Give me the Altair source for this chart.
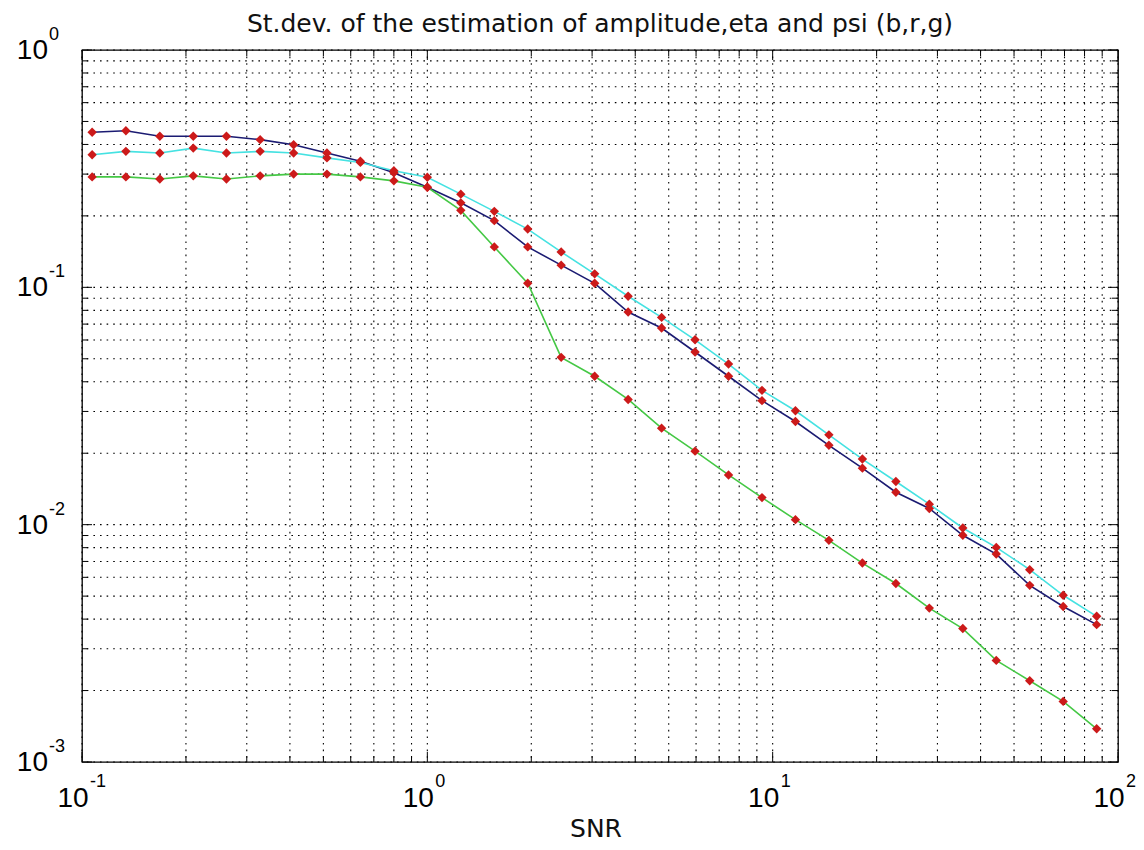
import altair as alt
import pandas as pd

# ---- data ----
snr = [0.107, 0.134, 0.168, 0.210, 0.262, 0.328, 0.410, 0.512, 0.640, 0.800,
       1.000, 1.250, 1.563, 1.953, 2.441, 3.052, 3.815, 4.768, 5.960, 7.451,
       9.313, 11.64, 14.55, 18.19, 22.74, 28.42, 35.53, 44.41, 55.51, 69.39, 86.74]

std_amp = [0.450, 0.457, 0.433, 0.433, 0.433, 0.419, 0.399, 0.368, 0.340, 0.304,
           0.264, 0.227, 0.191, 0.148, 0.124, 0.104, 0.0787, 0.0674, 0.0534, 0.0422,
           0.0333, 0.0272, 0.0216, 0.0173, 0.0137, 0.0117, 0.00902, 0.00752, 0.00555, 0.00452, 0.00379]

std_eta = [0.362, 0.374, 0.368, 0.386, 0.368, 0.374, 0.368, 0.351, 0.336, 0.310,
           0.291, 0.247, 0.209, 0.176, 0.141, 0.114, 0.0917, 0.0747, 0.0601, 0.0475,
           0.0368, 0.0302, 0.0239, 0.0189, 0.0152, 0.0122, 0.00968, 0.00802, 0.00646, 0.00504, 0.00411]

std_psi = [0.292, 0.292, 0.286, 0.295, 0.286, 0.295, 0.300, 0.300, 0.292, 0.281,
           0.264, 0.211, 0.148, 0.104, 0.0507, 0.0422, 0.0337, 0.0255, 0.0204, 0.0162,
           0.0130, 0.0105, 0.00859, 0.00689, 0.00565, 0.00445, 0.00365, 0.00268, 0.00220, 0.00180, 0.00138]

series_names = ["eta", "amplitude", "psi"]
series_colors = ["#45e2e2", "#1b1b72", "#45c845"]

x_major = [0.1, 1, 10, 100]
x_exp = ["-1", "0", "1", "2"]
x_minor = [0.2, 0.3, 0.4, 0.5, 0.6, 0.7, 0.8, 0.9,
           2, 3, 4, 5, 6, 7, 8, 9,
           20, 30, 40, 50, 60, 70, 80, 90]
y_major = [0.001, 0.01, 0.1, 1]
y_exp = ["-3", "-2", "-1", "0"]
y_minor = [0.002, 0.003, 0.004, 0.005, 0.006, 0.007, 0.008, 0.009,
           0.02, 0.03, 0.04, 0.05, 0.06, 0.07, 0.08, 0.09,
           0.2, 0.3, 0.4, 0.5, 0.6, 0.7, 0.8, 0.9]

title_text = "St.dev. of the estimation of amplitude,eta and psi (b,r,g)"
xlabel_text = "SNR"

# ---- layout/style ----
W, H = 1036, 712
FONT = "Liberation Sans"
TFONT = "DejaVu Sans"
xs = alt.Scale(type="log", domain=[0.1, 100], nice=False)
ys = alt.Scale(type="log", domain=[0.001, 1], nice=False)

rows = []
for name, vals in zip(["amplitude", "eta", "psi"], [std_amp, std_eta, std_psi]):
    for s, v in zip(snr, vals):
        rows.append({"snr": s, "std": v, "series": name})
df = pd.DataFrame(rows)

X = lambda f: alt.X(f, scale=xs, axis=None)
Y = lambda f: alt.Y(f, scale=ys, axis=None)

dash = [1.6, 5]
grid_x = alt.Chart(pd.DataFrame({"v": x_major + x_minor})).mark_rule(
    color="black", strokeWidth=1.1, strokeDash=dash, opacity=1).encode(x=X("v:Q"))
grid_y = alt.Chart(pd.DataFrame({"v": y_major + y_minor})).mark_rule(
    color="black", strokeWidth=1.1, strokeDash=dash, opacity=1).encode(y=Y("v:Q"))

def xticks(vals, L):
    d = pd.DataFrame({"v": vals})
    base = alt.Chart(d).mark_rule(color="black", strokeWidth=1)
    return [base.encode(x=X("v:Q"), y=alt.value(H), y2=alt.value(H - L)),
            base.encode(x=X("v:Q"), y=alt.value(0), y2=alt.value(L))]

def yticks(vals, L):
    d = pd.DataFrame({"v": vals})
    base = alt.Chart(d).mark_rule(color="black", strokeWidth=1)
    return [base.encode(y=Y("v:Q"), x=alt.value(0), x2=alt.value(L)),
            base.encode(y=Y("v:Q"), x=alt.value(W), x2=alt.value(W - L))]

ticks = xticks(x_major, 10) + xticks(x_minor, 6) + yticks(y_major, 10) + yticks(y_minor, 6)

lines = alt.Chart(df).mark_line(strokeWidth=1.6).encode(
    x=X("snr:Q"), y=Y("std:Q"),
    color=alt.Color("series:N", scale=alt.Scale(domain=series_names, range=series_colors), legend=None),
)
pts = alt.Chart(df).mark_point(shape="diamond", filled=True, size=88, color="#cc1a1a", opacity=1).encode(
    x=X("snr:Q"), y=Y("std:Q"))

xl = pd.DataFrame({"v": x_major, "e": x_exp})
yl = pd.DataFrame({"v": y_major, "e": y_exp})
x10 = alt.Chart(xl).mark_text(text="10", font=FONT, fontSize=28, align="center", baseline="middle", dx=-9, color="black").encode(
    x=X("v:Q"), y=alt.value(H + 37))
xe = alt.Chart(xl).mark_text(font=FONT, fontSize=18, align="left", baseline="middle", dx=8, color="black").encode(
    x=X("v:Q"), y=alt.value(H + 20), text="e:N")
y10 = alt.Chart(yl).mark_text(text="10", font=FONT, fontSize=28, align="right", baseline="middle", dy=1, color="black").encode(
    y=Y("v:Q"), x=alt.value(-34))
ye = alt.Chart(yl).mark_text(font=FONT, fontSize=18, align="left", baseline="middle", dy=-15, color="black").encode(
    y=Y("v:Q"), x=alt.value(-33), text="e:N")

title = alt.Chart(pd.DataFrame({"t": [title_text]})).mark_text(
    font=TFONT, fontSize=25, align="center", baseline="alphabetic", color="#111111").encode(
    x=alt.value(W / 2), y=alt.value(-18), text="t:N")
xlab = alt.Chart(pd.DataFrame({"t": [xlabel_text]})).mark_text(
    font=TFONT, fontSize=25, align="center", baseline="middle", color="#111111").encode(
    x=alt.value(W / 2 - 4), y=alt.value(H + 67), text="t:N")

chart = alt.layer(grid_x, grid_y, *ticks, lines, pts, x10, xe, y10, ye, title, xlab).properties(
    width=W, height=H,
    autosize=alt.AutoSizeParams(type="none"),
    padding={"left": 74, "top": 42, "right": 18, "bottom": 80},
    background="white",
).configure_view(stroke="black", strokeWidth=1.3)

chart.save("out.html", embed_options={"renderer": "svg", "actions": False})
